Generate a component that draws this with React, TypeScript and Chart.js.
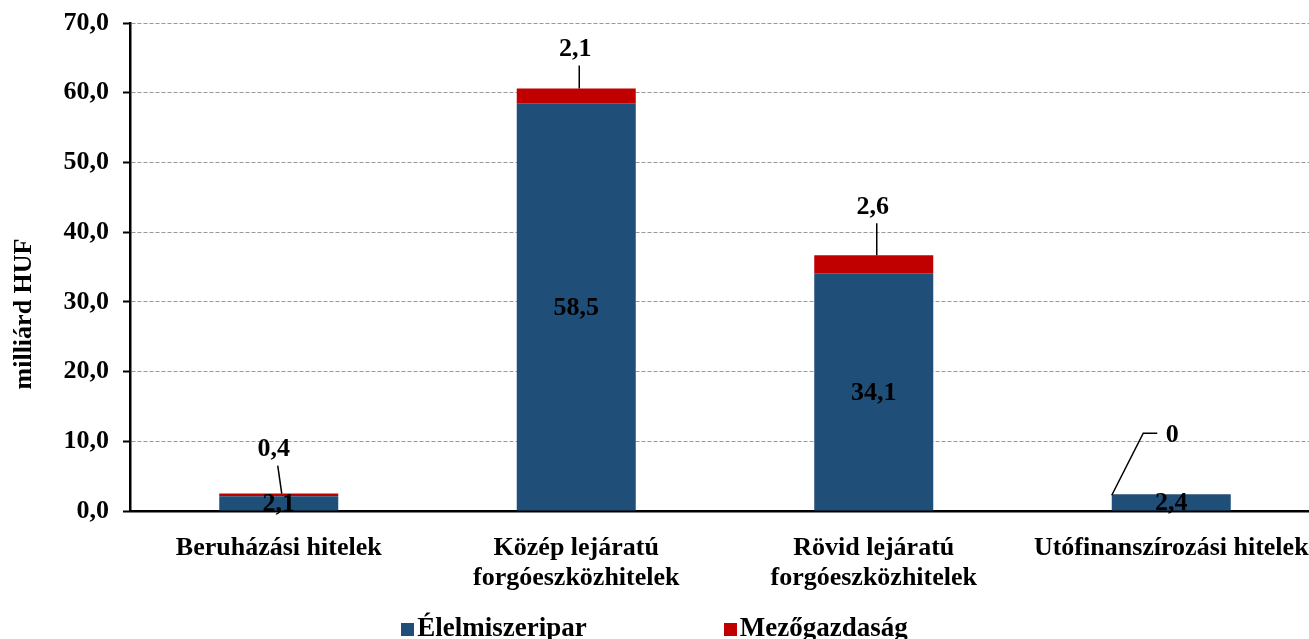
import React, { useEffect, useRef } from "react";
import { Chart } from "chart.js/auto";

const categories: (string | string[])[] = [
  "Beruházási hitelek",
  ["Közép lejáratú", "forgóeszközhitelek"],
  ["Rövid lejáratú", "forgóeszközhitelek"],
  "Utófinanszírozási hitelek",
];
const elelmiszeripar = [2.1, 58.5, 34.1, 2.4];
const mezogazdasag = [0.4, 2.1, 2.6, 0];
const yTicks = [0, 10, 20, 30, 40, 50, 60, 70];
const seriesNames = ["Élelmiszeripar", "Mezőgazdaság"];
const colors = ["#1F4E79", "#C00000"];

const FONT = '"Liberation Serif", "Times New Roman", serif';

const fmt = (v: number) => (v === 0 ? "0" : v.toFixed(1).replace(".", ","));

// label offsets for the top (red) series, relative to bar top-centre
const topLabelOffsets = [
  [-5, -44],
  [-1, -39],
  [-1, -48],
  [1, -59],
];

const labelsPlugin = {
  id: "customLabels",
  afterDatasetsDraw(chart: any) {
    const ctx = chart.ctx;
    ctx.save();
    ctx.fillStyle = "#000";
    ctx.font = `bold 26px ${FONT}`;
    ctx.textAlign = "center";
    ctx.textBaseline = "middle";
    const m0 = chart.getDatasetMeta(0);
    m0.data.forEach((bar: any, i: number) => {
      const cy = (bar.y + bar.base) / 2;
      ctx.fillText(fmt(elelmiszeripar[i]), bar.x, cy + 1);
    });
    const m1 = chart.getDatasetMeta(1);
    ctx.strokeStyle = "#000";
    ctx.lineWidth = 1.5;
    m1.data.forEach((bar: any, i: number) => {
      const [dx, dy] = topLabelOffsets[i];
      const lx = bar.x + dx;
      const ly = bar.y + dy;
      ctx.fillText(fmt(mezogazdasag[i]), lx, ly);
      ctx.beginPath();
      if (mezogazdasag[i] === 0) {
        const left = bar.x - bar.width / 2;
        ctx.moveTo(left, bar.y + 1);
        ctx.lineTo(lx - 29, ly - 2);
        ctx.lineTo(lx - 15, ly - 2);
      } else {
        ctx.moveTo(lx + 4, ly + 16);
        ctx.lineTo(bar.x + 3, bar.y);
      }
      ctx.stroke();
    });
    ctx.restore();
  },
};

const yTitlePlugin = {
  id: "yTitle",
  afterDraw(chart: any) {
    const ctx = chart.ctx;
    ctx.save();
    ctx.translate(24, 314);
    ctx.rotate(-Math.PI / 2);
    ctx.font = `bold 26px ${FONT}`;
    ctx.fillStyle = "#000";
    ctx.textAlign = "center";
    ctx.textBaseline = "middle";
    ctx.fillText("milliárd HUF", 0, 0);
    ctx.restore();
  },
};

export default function App() {
  const ref = useRef<HTMLCanvasElement | null>(null);
  useEffect(() => {
    if (!ref.current) return;
    const chart = new Chart(ref.current, {
      type: "bar",
      data: {
        labels: categories as any,
        datasets: [
          {
            label: seriesNames[0],
            data: elelmiszeripar,
            backgroundColor: colors[0],
            barPercentage: 0.4,
            categoryPercentage: 1,
          },
          {
            label: seriesNames[1],
            data: mezogazdasag,
            backgroundColor: colors[1],
            barPercentage: 0.4,
            categoryPercentage: 1,
          },
        ],
      },
      options: {
        animation: false,
        responsive: false,
        maintainAspectRatio: false,
        layout: { padding: { left: 0, top: 23, right: 0, bottom: 0 } },
        plugins: {
          legend: { display: false },
          tooltip: { enabled: false },
        },
        scales: {
          x: {
            stacked: true,
            grid: { display: false },
            border: { display: true, color: "#000", width: 2.5 },
            ticks: {
              color: "#000",
              font: { family: FONT, size: 26, weight: "bold", lineHeight: 1.15 },
              padding: 14,
              maxRotation: 0,
              autoSkip: false,
            },
            afterFit(scale: any) {
              scale.height = 639 - 511;
              scale.paddingLeft = 0;
              scale.paddingRight = 0;
            },
          },
          y: {
            stacked: true,
            min: 0,
            max: 70,
            afterBuildTicks(scale: any) {
              scale.ticks = yTicks.map((v) => ({ value: v }));
            },
            grid: {
              color: "#999",
              lineWidth: 1,
              tickColor: "#000",
              tickLength: 7,
              tickWidth: 2,
              tickBorderDash: [],
            },
            border: { display: true, color: "#000", width: 2.5, dash: [4, 2] },
            ticks: {
              color: "#000",
              font: { family: FONT, size: 26, weight: "bold" },
              padding: 14,
              callback: (v: any) => Number(v).toFixed(1).replace(".", ","),
            },
            afterFit(scale: any) {
              scale.width = 130;
              scale.paddingTop = 0;
              scale.paddingBottom = 0;
            },
          },
        },
      },
      plugins: [labelsPlugin, yTitlePlugin],
    });
    return () => chart.destroy();
  }, []);

  return (
    <div
      style={{
        position: "fixed",
        left: 0,
        top: 0,
        width: 1309,
        height: 639,
        overflow: "hidden",
        background: "#fff",
      }}
    >
      <canvas ref={ref} width={1320} height={639} style={{ display: "block" }} />
      <div
        style={{
          position: "absolute",
          left: 0,
          width: 1309,
          top: 612,
          display: "flex",
          justifyContent: "center",
          gap: 137,
          fontFamily: FONT,
          fontWeight: "bold",
          fontSize: 27,
          lineHeight: "30px",
          color: "#000",
        }}
      >
        {seriesNames.map((n, i) => (
          <div key={n} style={{ display: "flex", alignItems: "center" }}>
            <span
              style={{
                display: "inline-block",
                width: 13,
                height: 13,
                background: colors[i],
                marginRight: 3,
                marginTop: 4,
              }}
            />
            <span>{n}</span>
          </div>
        ))}
      </div>
    </div>
  );
}
